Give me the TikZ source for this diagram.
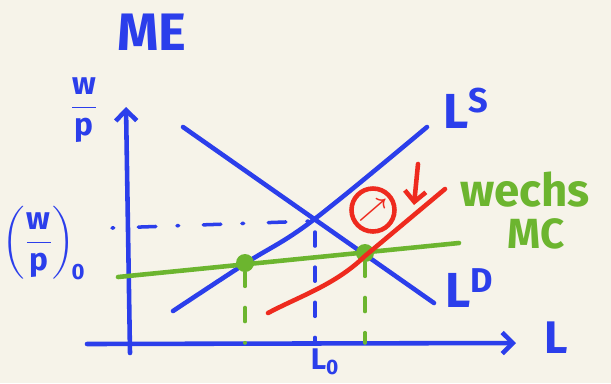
\documentclass[tikz,border=0pt]{standalone}
\usepackage{fontspec}
\setmainfont{Fira Sans}
\usepackage{amsmath}
\usetikzlibrary{arrows.meta,positioning}
\definecolor{penblue}{HTML}{2B3EEB}
\definecolor{pengreen}{HTML}{6CB52F}
\definecolor{penred}{HTML}{EE2A1E}
\definecolor{paper}{HTML}{F6F3E9}

\begin{document}
\begin{tikzpicture}[
  x=0.02cm, y=-0.02cm,
  >={Straight Barb[length=6pt,width=12pt]},
  pen/.style={line width=2.6pt, line cap=round, line join=round},
  guide/.style={line width=2pt, line cap=round, dash pattern=on 8pt off 12pt},
  lbl/.style={inner sep=1pt, font=\bfseries},
  dot/.style={circle, fill=pengreen, minimum size=0.36cm, inner sep=0pt}]
  \fill[paper] (0,0) rectangle (611,383);
  \useasboundingbox (0,0) rectangle (611,383);
  % axes
  \coordinate (ybot) at (130,353);
  \coordinate (ytop) at (126,107);
  \coordinate (xleft) at (87,344);
  \coordinate (xright) at (516,343);
  \draw[pen,penblue,->] (ybot) -- (ytop);
  \draw[pen,penblue,->] (xleft) -- (xright);
  % labels
  \node[lbl,penblue,font=\fontsize{30}{30}\selectfont\bfseries] (title) at (152,32) {ME};
  \node[lbl,penblue,font=\fontsize{18}{18}\selectfont] (ylab) at (84,110) {$\dfrac{\textbf{w}}{\textbf{p}}$};
  \node[lbl,penblue,font=\fontsize{26}{26}\selectfont\bfseries] (xlab) at (556,338) {L};
  \node[lbl,penblue,font=\fontsize{18}{18}\selectfont] (wp0) at (44,243) {$\left(\dfrac{\textbf{w}}{\textbf{p}}\right)_{\!\mathbf{0}}$};
  \node[lbl,penblue,font=\fontsize{17}{17}\selectfont\bfseries] (L0) at (325,362) {L$_\mathbf{0}$};
  % labour demand and supply
  \coordinate (dtop) at (183,127);
  \coordinate (dbot) at (434,303);
  \draw[pen,penblue] (dtop) -- (dbot);
  \draw[pen,penblue] plot[smooth,tension=0.6] coordinates {(173,311) (246,263) (312,221) (427,127)};
  \node[lbl,penblue,font=\fontsize{28}{28}\selectfont\bfseries] (ld) at (470,288) {L\textsuperscript{D}};
  \node[lbl,penblue,font=\fontsize{28}{28}\selectfont\bfseries] (ls) at (466,108) {L\textsuperscript{S}};
  % equilibrium
  \coordinate (eq) at (314,221);
  \coordinate (weq) at (112,228);
  \draw[guide,penblue,dash pattern=on 1pt off 14pt on 10pt off 12pt] (weq) -- (eq);
  \draw[guide,penblue] (315,232) -- (315,342);
  % green line
  \coordinate (gleft) at (118,277);
  \coordinate (gright) at (459,243);
  \draw[pen,pengreen] (gleft) -- (gright);
  \node[dot] (g1) at (245,263) {};
  \node[dot] (g2) at (365,253) {};
  \draw[guide,pengreen] (g1) -- (245,343);
  \draw[guide,pengreen] (g2) -- (365,343);
  \node[lbl,pengreen,font=\fontsize{26}{26}\selectfont\bfseries] (wechs) at (525,190) {wechs};
  \node[lbl,pengreen,font=\fontsize{24}{24}\selectfont\bfseries] (mc) at (536,234) {MC};
  % red line
  \draw[pen,penred] (268,313) .. controls (300,296) and (335,285) .. (365,256) -- (445,189);
  \node[draw=penred,circle,line width=2.6pt,minimum size=0.86cm,inner sep=-2pt,text=penred,font=\Large] (circ) at (373,210) {$\boldsymbol{\nearrow}$};
  \coordinate (atop) at (418,164);
  \coordinate (abot) at (414,205);
  \draw[pen,penred,->] (atop) -- (abot);
\end{tikzpicture}
\end{document}
